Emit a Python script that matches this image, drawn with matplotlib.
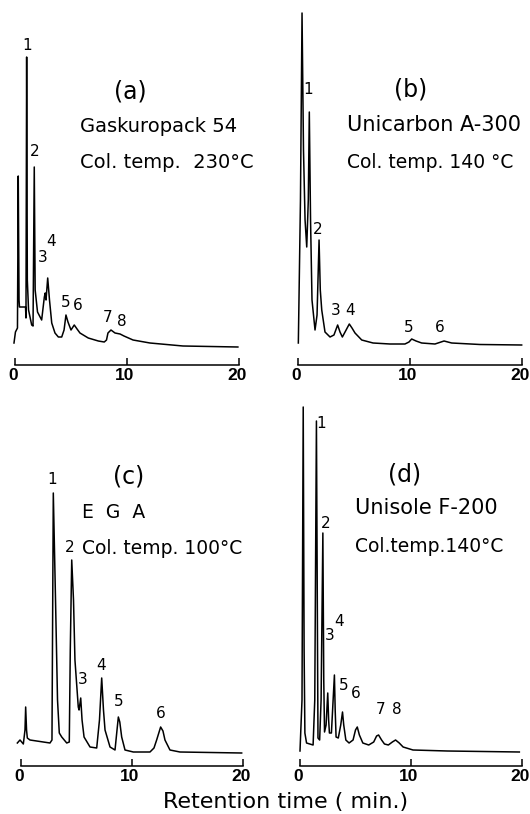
import matplotlib
matplotlib.use("Agg")
import matplotlib.pyplot as plt
import matplotlib.transforms as mtransforms

# traced chromatograms: retention time (min) and detector response (arb.)
a_time = [-0.09, 0.04, 0.22, 0.29, 0.36, 0.40, 0.94, 0.98, 1.04, 1.10, 1.21, 1.49,
          1.61, 1.72, 1.80, 2.01, 2.38, 2.62, 2.70, 2.77, 2.92, 3.08, 3.28, 3.57,
          3.87, 4.17, 4.38, 4.55, 4.73, 5.00, 5.29, 5.54, 5.80, 6.54, 7.44, 7.97,
          8.17, 8.30, 8.57, 8.93, 9.38, 9.73, 10.54, 12.05, 15.0, 19.9]
a_resp = [13, 24, 28, 180, 56, 49, 49, 38, 299, 76, 46, 31,
          30, 189, 66, 44, 36, 59, 63, 56, 78, 56, 33, 23,
          19, 19, 26, 41, 34, 26, 31, 27, 23, 18, 15, 14,
          16, 23, 26, 23, 22, 20, 16, 13, 10, 9]

b_time = [0.03, 0.22, 0.36, 0.49, 0.63, 0.78, 0.92, 1.01, 1.12, 1.25, 1.52, 1.70,
          1.88, 1.99, 2.12, 2.41, 2.86, 3.21, 3.54, 3.75, 3.96, 4.20, 4.58, 4.82,
          5.09, 5.69, 6.70, 8.21, 9.55, 9.91, 10.15, 10.54, 11.04, 12.23, 13.04,
          13.72, 16.25, 19.97]
b_resp = [9, 152, 339, 202, 132, 105, 152, 240, 132, 52, 22, 37,
          112, 62, 42, 20, 15, 17, 27, 20, 15, 20, 28, 24,
          19, 12, 9, 8, 8, 10, 13, 11, 9, 8, 11,
          9, 7.5, 7]

c_time = [-0.33, -0.09, 0.06, 0.21, 0.36, 0.42, 0.50, 0.57, 0.81, 1.41, 2.01, 2.61,
          2.79, 2.91, 3.11, 3.29, 3.45, 3.67, 4.12, 4.35, 4.44, 4.57, 4.73, 4.86,
          5.16, 5.23, 5.38, 5.50, 5.68, 6.22, 6.82, 7.07, 7.27, 7.43, 7.57, 8.02,
          8.47, 8.65, 8.77, 8.90, 9.07, 9.37, 10.12, 11.62, 11.98, 12.22, 12.58,
          12.79, 12.97, 13.42, 14.32, 19.88]
c_resp = [18, 21, 19, 17, 31, 54, 31, 23, 21, 20, 19, 18,
          21, 268, 161, 61, 28, 24, 18, 19, 111, 201, 161, 101,
          54, 51, 63, 41, 24, 14, 13, 41, 83, 51, 31, 14,
          11, 31, 44, 39, 24, 11, 9, 9, 13, 21, 34,
          30, 21, 11, 9, 8]

d_time = [0.0, 0.18, 0.29, 0.37, 0.44, 0.59, 0.88, 1.18, 1.33, 1.48, 1.58, 1.62,
          1.77, 1.90, 2.06, 2.14, 2.21, 2.35, 2.50, 2.58, 2.65, 2.83, 3.10, 3.17,
          3.25, 3.45, 3.67, 3.83, 3.94, 4.13, 4.42, 4.78, 5.00, 5.16, 5.35, 5.66,
          6.19, 6.64, 6.90, 7.08, 7.35, 7.61, 7.96, 8.32, 8.61, 8.94, 9.29, 10.18,
          13.27, 19.76]
d_resp = [12, 63, 356, 113, 30, 20, 19, 18, 63, 342, 113, 25,
          23, 63, 230, 83, 31, 38, 70, 43, 30, 30, 88, 53,
          26, 25, 38, 51, 38, 23, 20, 23, 33, 36, 28, 20,
          18, 21, 27, 28, 23, 19, 18, 21, 23, 20, 16, 13,
          12, 11]

# peak numbers and where they are written (time, response)
a_peaks = ["1", "2", "3", "4", "5", "6", "7", "8"]
a_peak_t = [1.04, 1.79, 2.47, 3.21, 4.53, 5.56, 8.24, 9.58]
a_peak_h = [311, 204, 99, 115, 53, 50, 38, 34]

b_peaks = ["1", "2", "3", "4", "5", "6"]
b_peak_t = [0.92, 1.72, 3.39, 4.64, 9.91, 12.68]
b_peak_h = [262, 122, 41, 41, 24, 24]

c_peaks = ["1", "2", "3", "4", "5", "6"]
c_peak_t = [2.77, 4.35, 5.56, 7.21, 8.77, 12.59]
c_peak_h = [281, 213, 81, 96, 59, 48]

d_peaks = ["1", "2", "3", "4", "5", "6", "7", "8"]
d_peak_t = [1.92, 2.27, 2.65, 3.54, 3.98, 5.02, 7.23, 8.70]
d_peak_h = [339, 240, 128, 141, 78, 70, 53, 53]

panel_tags = ["(a)", "(b)", "(c)", "(d)"]
columns = ["Gaskuropack 54", "Unicarbon A-300", "E  G  A", "Unisole F-200"]
temps = ["Col. temp.  230°C", "Col. temp. 140 °C", "Col. temp. 100°C", "Col.temp.140°C"]
xticks = [0, 10, 20]

W, H = 530, 814
fig = plt.figure(figsize=(W / 100, H / 100), dpi=100)
fig.patch.set_facecolor("white")

# labels sit a touch left of their ticks in the original
nudge = mtransforms.ScaledTranslation(-2 / 100, 0, fig.dpi_scale_trans)


def make_axes(x0, x20, axis_y, zero_y, top_y):
    # axes placed by pixel position of the 0 and 20 min ticks,
    # the time axis line and the response zero level
    ppm = (x20 - x0) / 20.0
    left = (x0 - ppm) / W
    width = ppm * 22 / W
    bottom = (H - axis_y) / H
    height = (axis_y - top_y) / H
    ax = fig.add_axes([left, bottom, width, height])
    ax.set_xlim(-1, 21)
    ax.set_ylim(-(axis_y - zero_y), zero_y - top_y)
    for s in ["left", "right", "top"]:
        ax.spines[s].set_visible(False)
    ax.spines["bottom"].set_bounds(0, 20)
    ax.spines["bottom"].set_linewidth(1.1)
    ax.set_yticks([])
    ax.set_xticks(xticks)
    ax.set_xticklabels([str(v) for v in xticks], fontsize=12.5, fontweight="bold",
                       family="Liberation Sans")
    ax.tick_params(axis="x", direction="in", length=5, width=1.1, pad=2.5)
    for lab in ax.get_xticklabels():
        lab.set_transform(lab.get_transform() + nudge)
    ax.patch.set_alpha(0)
    return ax


panels = [
    (make_axes(15, 239, 365, 356, 0), a_time, a_resp, a_peaks, a_peak_t, a_peak_h,
     (10.27, 264), (5.80, 229), (5.80, 193), 14, 14),
    (make_axes(298, 522, 365, 352, 0), b_time, b_resp, b_peaks, b_peak_t, b_peak_h,
     (10.06, 262), (4.35, 227), (4.35, 190), 15, 13.5),
    (make_axes(21, 243, 766, 761, 400), c_time, c_resp, c_peaks, c_peak_t, c_peak_h,
     (9.67, 284), (5.47, 249), (5.47, 213), 13.5, 13.5),
    (make_axes(300, 522, 766, 763, 400), d_time, d_resp, d_peaks, d_peak_t, d_peak_h,
     (9.44, 288), (4.93, 255), (4.93, 216), 15, 13.5),
]

for i, (ax, t, r, labs, lt, lh, tag_pos, col_pos, temp_pos, fs1, fs2) in enumerate(panels):
    ax.plot(t, r, color="black", linewidth=1.1, clip_on=False)
    for lab, x, y in zip(labs, lt, lh):
        ax.text(x, y, lab, fontsize=11, ha="center", va="center")
    ax.text(*tag_pos, panel_tags[i], fontsize=17, ha="center", va="center")
    ax.text(*col_pos, columns[i], fontsize=fs1, ha="left", va="center")
    ax.text(*temp_pos, temps[i], fontsize=fs2, ha="left", va="center")

fig.text(286 / W, 1 - 802 / H, "Retention time ( min.)", fontsize=16,
         ha="center", va="center")

fig.savefig("out.png", dpi=100)
